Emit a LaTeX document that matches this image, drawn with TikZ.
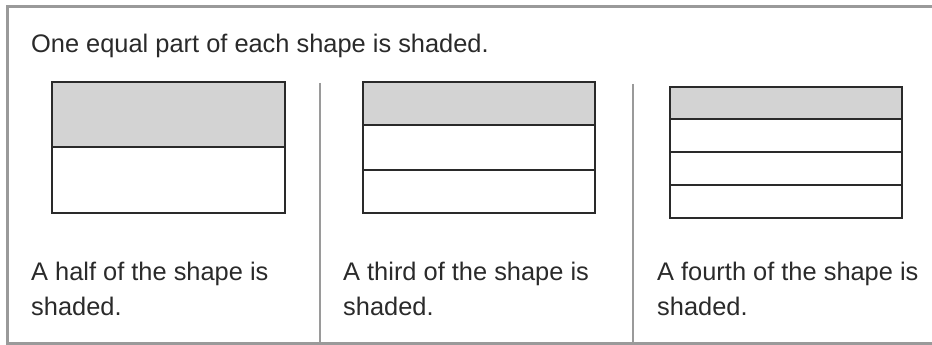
\documentclass[tikz,border=0pt]{standalone}
\usepackage{fontspec}
\setmainfont{Liberation Sans}
\definecolor{framegray}{HTML}{9A9A9A}
\definecolor{shadegray}{HTML}{D3D3D3}
\definecolor{inkgray}{HTML}{2A2A2A}
\tikzset{
  txt/.style={anchor=base west, inner sep=0pt, text=inkgray, font=\fontsize{25.4}{35}\selectfont},
  bar/.style={draw=inkgray, line width=1.8pt},
  shade/.style={fill=shadegray},
  sep/.style={draw=framegray, line width=2pt},
  frame/.style={draw=framegray, line width=3pt}
}
\begin{document}
\begin{tikzpicture}[x=1pt,y=-1pt]
\useasboundingbox (0,0) rectangle (932,345);
\clip (0,0) rectangle (932,345);
% outer frame (open to the right)
\draw[frame] (940,7) -- (7,7) -- (7,343) -- (940,343);
% separators
\draw[sep] (320,83) -- (320,345);
\draw[sep] (633,84) -- (633,345);
% title
\node[txt] (title) at (31,53) {One equal part of each shape is shaded.};
% shape 1: halves
\fill[shade] (52,82) rectangle (285,147);
\draw[bar] (52,82) rectangle (285,213);
\draw[bar] (52,147) -- (285,147);
% shape 2: thirds
\fill[shade] (363,82) rectangle (595,125);
\draw[bar] (363,82) rectangle (595,213);
\draw[bar] (363,125) -- (595,125);
\draw[bar] (363,170) -- (595,170);
% shape 3: fourths
\fill[shade] (670,87) rectangle (902,119);
\draw[bar] (670,87) rectangle (902,218);
\draw[bar] (670,119) -- (902,119);
\draw[bar] (670,152) -- (902,152);
\draw[bar] (670,185) -- (902,185);
% captions
\node[txt] (c1a) at (31,280) {A half of the shape is};
\node[txt] (c1b) at (31,315) {shaded.};
\node[txt] (c2a) at (343,280) {A third of the shape is};
\node[txt] (c2b) at (343,315) {shaded.};
\node[txt] (c3a) at (657,280) {A fourth of the shape is};
\node[txt] (c3b) at (657,315) {shaded.};
\end{tikzpicture}
\end{document}
